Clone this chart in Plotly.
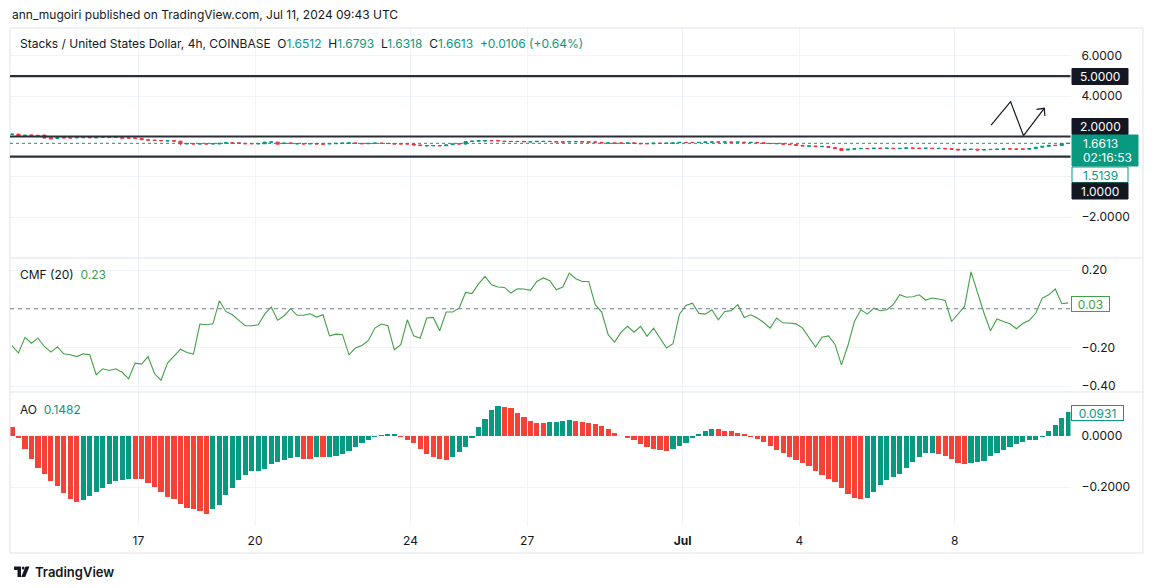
import plotly.graph_objects as go
import pandas as pd

# ---------------- data ----------------
bar_start = "2024-06-13 18:00"   # first visible 4h bar
bar_hours = 4

open_ = [2.10,2.12,2.05,2.08,2.06,2.07,1.94,1.90,1.95,1.94,
         1.93,1.94,1.96,1.93,1.96,1.95,1.97,1.94,1.93,1.93,
         1.91,1.84,1.82,1.80,1.78,1.79,1.77,1.63,1.65,1.63,
         1.64,1.63,1.63,1.67,1.69,1.68,1.66,1.65,1.63,1.64,
         1.72,1.72,1.65,1.68,1.63,1.65,1.63,1.65,1.64,1.63,
         1.64,1.66,1.66,1.68,1.66,1.64,1.66,1.67,1.66,1.65,
         1.64,1.64,1.63,1.58,1.53,1.54,1.55,1.54,1.60,1.64,
         1.63,1.75,1.77,1.78,1.80,1.80,1.77,1.76,1.76,1.76,
         1.73,1.74,1.75,1.76,1.75,1.74,1.73,1.74,1.75,1.74,
         1.73,1.71,1.67,1.68,1.68,1.66,1.68,1.66,1.65,1.64,
         1.67,1.66,1.66,1.69,1.71,1.71,1.70,1.71,1.72,1.73,
         1.72,1.73,1.71,1.72,1.70,1.71,1.69,1.66,1.64,1.65,
         1.62,1.60,1.56,1.52,1.53,1.50,1.50,1.46,1.40,1.33,
         1.37,1.39,1.41,1.40,1.42,1.41,1.42,1.40,1.41,1.43,
         1.42,1.41,1.42,1.40,1.41,1.39,1.37,1.33,1.36,1.37,
         1.33,1.35,1.36,1.37,1.39,1.38,1.38,1.37,1.40,1.47,
         1.51,1.57,1.55,1.6512]
high = [2.13,2.13,2.07,2.09,2.07,2.08,1.95,1.95,1.96,1.95,
        1.96,1.96,1.97,1.96,1.97,1.97,1.98,1.95,1.94,1.94,
        1.92,1.85,1.83,1.81,1.80,1.80,1.78,1.66,1.66,1.65,
        1.65,1.65,1.67,1.70,1.70,1.69,1.67,1.66,1.66,1.73,
        1.74,1.73,1.68,1.69,1.66,1.66,1.66,1.66,1.65,1.66,
        1.67,1.68,1.69,1.69,1.67,1.67,1.68,1.68,1.67,1.66,
        1.65,1.65,1.64,1.59,1.56,1.56,1.56,1.59,1.64,1.65,
        1.76,1.78,1.80,1.80,1.81,1.81,1.78,1.77,1.77,1.77,
        1.75,1.77,1.77,1.77,1.76,1.75,1.76,1.76,1.76,1.75,
        1.74,1.72,1.69,1.69,1.69,1.69,1.69,1.67,1.66,1.68,
        1.68,1.68,1.69,1.72,1.72,1.72,1.72,1.74,1.74,1.74,
        1.74,1.74,1.73,1.73,1.72,1.72,1.70,1.67,1.66,1.66,
        1.63,1.61,1.57,1.54,1.54,1.52,1.51,1.47,1.41,1.38,
        1.40,1.42,1.42,1.43,1.43,1.43,1.43,1.42,1.44,1.44,
        1.43,1.43,1.43,1.42,1.42,1.40,1.38,1.37,1.38,1.38,
        1.36,1.37,1.38,1.39,1.40,1.39,1.39,1.41,1.48,1.52,
        1.57,1.58,1.66,1.6793]
low = [2.09,2.03,2.04,2.04,2.03,1.91,1.87,1.89,1.92,1.92,
       1.92,1.93,1.93,1.92,1.94,1.94,1.94,1.91,1.91,1.90,
       1.83,1.81,1.79,1.78,1.77,1.76,1.57,1.62,1.62,1.62,
       1.62,1.62,1.62,1.66,1.66,1.66,1.63,1.63,1.62,1.63,
       1.71,1.61,1.64,1.65,1.62,1.62,1.62,1.62,1.61,1.62,
       1.63,1.65,1.65,1.65,1.63,1.63,1.65,1.65,1.64,1.62,
       1.62,1.62,1.57,1.54,1.52,1.53,1.53,1.53,1.59,1.62,
       1.58,1.74,1.76,1.77,1.78,1.77,1.74,1.74,1.74,1.73,
       1.72,1.73,1.74,1.74,1.72,1.71,1.72,1.73,1.72,1.71,
       1.71,1.67,1.66,1.66,1.66,1.65,1.66,1.63,1.63,1.63,
       1.65,1.65,1.65,1.68,1.69,1.69,1.69,1.70,1.71,1.71,
       1.71,1.70,1.70,1.69,1.69,1.68,1.65,1.64,1.63,1.61,
       1.59,1.55,1.52,1.51,1.49,1.49,1.45,1.39,1.28,1.32,
       1.36,1.38,1.39,1.39,1.40,1.40,1.39,1.39,1.40,1.41,
       1.40,1.40,1.39,1.39,1.38,1.36,1.32,1.32,1.35,1.32,
       1.32,1.34,1.35,1.36,1.37,1.36,1.36,1.36,1.39,1.46,
       1.50,1.54,1.54,1.6318]
close = [2.12,2.04,2.06,2.05,2.04,1.92,1.88,1.94,1.93,1.93,
         1.95,1.95,1.94,1.95,1.95,1.96,1.95,1.92,1.92,1.91,
         1.84,1.82,1.80,1.79,1.79,1.77,1.64,1.65,1.63,1.64,
         1.63,1.64,1.66,1.69,1.67,1.67,1.64,1.64,1.65,1.72,
         1.73,1.62,1.67,1.66,1.65,1.63,1.65,1.63,1.62,1.65,
         1.66,1.67,1.68,1.66,1.64,1.66,1.67,1.66,1.65,1.63,
         1.63,1.63,1.58,1.55,1.55,1.55,1.54,1.58,1.63,1.63,
         1.75,1.77,1.79,1.79,1.79,1.78,1.75,1.75,1.75,1.74,
         1.74,1.76,1.76,1.75,1.73,1.72,1.75,1.75,1.73,1.72,
         1.72,1.68,1.68,1.67,1.67,1.68,1.67,1.64,1.64,1.67,
         1.66,1.67,1.68,1.71,1.70,1.70,1.71,1.73,1.73,1.72,
         1.73,1.71,1.72,1.70,1.71,1.69,1.66,1.65,1.65,1.62,
         1.60,1.56,1.53,1.53,1.50,1.51,1.46,1.40,1.31,1.37,
         1.39,1.41,1.40,1.42,1.41,1.42,1.40,1.41,1.43,1.42,
         1.41,1.42,1.40,1.41,1.39,1.37,1.33,1.36,1.37,1.33,
         1.35,1.36,1.37,1.38,1.38,1.37,1.37,1.40,1.47,1.51,
         1.56,1.55,1.6512,1.6613]

cmf = [-0.190,-0.229,-0.148,-0.178,-0.152,-0.195,-0.224,-0.197,-0.233,-0.238,
       -0.247,-0.233,-0.238,-0.341,-0.310,-0.319,-0.310,-0.328,-0.362,-0.281,
       -0.286,-0.247,-0.336,-0.369,-0.281,-0.247,-0.209,-0.226,-0.234,-0.079,
       -0.083,-0.078,0.041,-0.014,-0.031,-0.060,-0.088,-0.088,-0.083,-0.028,
       0.009,-0.059,-0.036,0.000,-0.034,-0.034,-0.026,-0.043,-0.031,-0.140,
       -0.131,-0.134,-0.238,-0.203,-0.190,-0.164,-0.100,-0.079,-0.088,-0.212,
       -0.186,-0.057,-0.140,-0.152,-0.048,-0.045,-0.114,-0.017,-0.017,0.003,
       0.084,0.078,0.128,0.167,0.124,0.112,0.110,0.081,0.103,0.102,
       0.095,0.141,0.159,0.145,0.098,0.112,0.184,0.155,0.141,0.141,
       0.021,-0.017,-0.134,-0.172,-0.121,-0.091,-0.121,-0.091,-0.143,-0.100,
       -0.152,-0.203,-0.181,-0.028,0.017,0.029,-0.024,-0.028,-0.005,-0.057,
       -0.014,-0.010,0.021,-0.045,-0.031,-0.048,-0.071,-0.100,-0.048,-0.074,
       -0.074,-0.078,-0.100,-0.152,-0.198,-0.147,-0.140,-0.183,-0.290,-0.190,
       -0.066,-0.005,-0.028,0.003,-0.010,-0.005,0.021,0.072,0.059,0.062,
       0.072,0.045,0.055,0.050,0.043,-0.066,-0.028,0.012,0.190,0.081,
       -0.022,-0.114,-0.053,-0.066,-0.078,-0.103,-0.076,-0.060,-0.022,0.055,
       0.072,0.102,0.026,0.030]

ao = [0.035,-0.006,-0.051,-0.090,-0.123,-0.148,-0.174,-0.194,-0.221,-0.244,
      -0.256,-0.248,-0.234,-0.217,-0.201,-0.187,-0.175,-0.170,-0.166,-0.167,
      -0.168,-0.182,-0.197,-0.217,-0.236,-0.245,-0.266,-0.279,-0.283,-0.291,
      -0.303,-0.286,-0.268,-0.232,-0.201,-0.173,-0.151,-0.138,-0.136,-0.129,
      -0.108,-0.100,-0.094,-0.087,-0.082,-0.088,-0.089,-0.082,-0.083,-0.081,
      -0.078,-0.071,-0.058,-0.042,-0.026,-0.016,-0.004,0.004,0.008,0.009,
      -0.003,-0.016,-0.029,-0.051,-0.070,-0.081,-0.090,-0.094,-0.082,-0.062,
      -0.043,-0.006,0.035,0.066,0.100,0.117,0.114,0.108,0.091,0.074,
      0.060,0.051,0.049,0.053,0.054,0.058,0.061,0.058,0.053,0.049,
      0.045,0.039,0.027,0.013,0.001,-0.006,-0.016,-0.030,-0.043,-0.051,
      -0.055,-0.058,-0.051,-0.039,-0.026,-0.008,0.009,0.019,0.029,0.026,
      0.019,0.018,0.013,0.006,-0.004,-0.012,-0.025,-0.039,-0.055,-0.066,
      -0.081,-0.094,-0.104,-0.117,-0.135,-0.151,-0.166,-0.178,-0.204,-0.226,
      -0.243,-0.245,-0.243,-0.218,-0.191,-0.171,-0.158,-0.148,-0.123,-0.101,
      -0.081,-0.068,-0.065,-0.070,-0.077,-0.090,-0.104,-0.108,-0.104,-0.101,
      -0.097,-0.078,-0.068,-0.056,-0.042,-0.032,-0.025,-0.017,-0.016,-0.003,
      0.019,0.043,0.069,0.0931]

levels = [5.0, 2.0, 1.0]
last_price = 1.6613

# hand-drawn zig-zag arrow (bar position, price)
draw_pos = [151.1, 154.1, 156.1, 159.3]
draw_price = [2.57, 3.73, 2.04, 3.40]
head_pos = [158.1, 159.3, 159.4]
head_price = [3.35, 3.40, 3.02]

tick_dates = ["2024-06-17", "2024-06-20", "2024-06-24", "2024-06-27",
              "2024-07-01", "2024-07-04", "2024-07-08"]
tick_text = ["17", "20", "24", "27", "<b>Jul</b>", "4", "8"]

price_ticks = [6, 4, 2, 0, -2]
price_ticktext = ["6.0000", "4.0000", "", "", "\u22122.0000"]
cmf_ticks = [0.2, 0.0, -0.2, -0.4]
cmf_ticktext = ["0.20", "", "\u22120.20", "\u22120.40"]
ao_ticks = [0.0, -0.2]
ao_ticktext = ["0.0000", "\u22120.2000"]

# ---------------- styling ----------------
W, H = 1154, 588
UP, DOWN = "#089981", "#f23645"
AO_UP, AO_DOWN = "#089981", "#f44336"
CMF_C = "#43a047"
TXT = "#131722"
GRID = "#f0f3fa"
BORDER = "#e0e3eb"
FONT = "Inter"

def px(x):
    return x / W

def py(y):
    return 1 - y / H

t0 = pd.Timestamp(bar_start)
step = pd.Timedelta(hours=bar_hours)
dates = [t0 + step * i for i in range(len(close))]

def pos2date(p):
    return t0 + pd.Timedelta(hours=bar_hours * p)

x_range = [pos2date(-0.309), pos2date(163.35)]
X_DOM = [px(10), px(1070.5)]

fig = go.Figure()

fig.add_trace(go.Candlestick(
    x=dates, open=open_, high=high, low=low, close=close,
    increasing=dict(line=dict(color=UP, width=1), fillcolor=UP),
    decreasing=dict(line=dict(color=DOWN, width=1), fillcolor=DOWN),
    whiskerwidth=0, showlegend=False, xaxis="x", yaxis="y", hoverinfo="skip"))

fig.add_trace(go.Scatter(
    x=[pos2date(p) for p in draw_pos], y=draw_price, mode="lines",
    line=dict(color="#131722", width=1.2), xaxis="x", yaxis="y",
    showlegend=False, hoverinfo="skip"))
fig.add_trace(go.Scatter(
    x=[pos2date(p) for p in head_pos], y=head_price, mode="lines",
    line=dict(color="#131722", width=1.2), xaxis="x", yaxis="y",
    showlegend=False, hoverinfo="skip"))

fig.add_trace(go.Scatter(
    x=dates, y=cmf, mode="lines", line=dict(color=CMF_C, width=1.1),
    xaxis="x2", yaxis="y2", showlegend=False, hoverinfo="skip"))

ao_colors = [AO_DOWN] + [AO_UP if ao[i] >= ao[i - 1] else AO_DOWN for i in range(1, len(ao))]
fig.add_trace(go.Bar(
    x=dates, y=ao, marker=dict(color=ao_colors, line=dict(width=0)),
    width=bar_hours * 3600 * 1000 * 0.8,
    xaxis="x3", yaxis="y3", showlegend=False, hoverinfo="skip"))

# panes (pixel rows)
PRICE_PX = (28, 258)
CMF_PX = (258, 392)
AO_PX = (392, 526)

def dom(p):
    return [py(p[1]), py(p[0])]

xcommon = dict(range=x_range, domain=X_DOM, showgrid=True, gridcolor=GRID,
               gridwidth=1, tickvals=tick_dates, ticktext=tick_text,
               zeroline=False, showline=False, ticks="", fixedrange=True)
tickfont = dict(family=FONT, size=12, color=TXT)

fig.update_layout(
    width=W, height=H, margin=dict(l=0, r=0, t=0, b=0),
    paper_bgcolor="white", plot_bgcolor="white", bargap=0,
    xaxis=dict(**xcommon, anchor="y", showticklabels=False,
               rangeslider=dict(visible=False)),
    xaxis2=dict(**xcommon, anchor="y2", showticklabels=False),
    xaxis3=dict(**xcommon, anchor="y3", showticklabels=True, tickfont=tickfont,
                ticklabelstandoff=6),
    yaxis=dict(domain=dom(PRICE_PX), range=[-4.03, 7.385], side="right",
               anchor="x", tickvals=price_ticks, ticktext=price_ticktext,
               showgrid=True, gridcolor=GRID, zeroline=False, ticks="",
               tickfont=tickfont, ticklabelstandoff=10, fixedrange=True),
    yaxis2=dict(domain=dom(CMF_PX), range=[-0.430, 0.262], side="right",
                anchor="x2", tickvals=cmf_ticks, ticktext=cmf_ticktext,
                showgrid=True, gridcolor=GRID, zeroline=False, ticks="",
                tickfont=tickfont, ticklabelstandoff=10, fixedrange=True),
    yaxis3=dict(domain=dom(AO_PX), range=[-0.351, 0.1715], side="right",
                anchor="x3", tickvals=ao_ticks, ticktext=ao_ticktext,
                showgrid=True, gridcolor=GRID, zeroline=False, ticks="",
                tickfont=tickfont, ticklabelstandoff=10, fixedrange=True),
)

shapes = []
# frame and separators
for yy in (28, 258, 392, 553):
    shapes.append(dict(type="line", xref="paper", yref="paper", x0=px(10), x1=px(1143),
                       y0=py(yy), y1=py(yy), line=dict(color=BORDER, width=1)))
for xx in (10, 1143):
    shapes.append(dict(type="line", xref="paper", yref="paper", x0=px(xx), x1=px(xx),
                       y0=py(28), y1=py(553), line=dict(color=BORDER, width=1)))
# horizontal levels
for lv in levels:
    shapes.append(dict(type="line", xref="x domain", yref="y", x0=0, x1=1, y0=lv, y1=lv,
                       line=dict(color="#2a2e39", width=2.2), layer="above"))
# last price dotted line
shapes.append(dict(type="line", xref="x domain", yref="y", x0=0, x1=1,
                   y0=last_price, y1=last_price,
                   line=dict(color=UP, width=1, dash="dot"), layer="above"))
# CMF zero dashed line
shapes.append(dict(type="line", xref="x2 domain", yref="y2", x0=0, x1=1, y0=0, y1=0,
                   line=dict(color="#787b86", width=1, dash="4px,4px")))

# price-scale label boxes (pixel rows)
def box(x0, x1, y0, y1, fill, line=None):
    shapes.append(dict(type="rect", xref="paper", yref="paper",
                       x0=px(x0), x1=px(x1), y0=py(y1), y1=py(y0),
                       fillcolor=fill, line=dict(color=line or fill, width=1),
                       layer="above"))

box(1072, 1128, 68.5, 84.5, "#131722")
box(1072, 1128, 118.5, 134.5, "#131722")
box(1072, 1138, 135, 166, UP)
box(1072, 1128, 167, 182.5, "white", UP)
box(1072, 1128, 183, 199, "#131722")

# TradingView logo
shapes.append(dict(type="path", xref="paper", yref="paper",
                   path=f"M {px(14)},{py(566.5)} L {px(21)},{py(566.5)} L {px(21)},{py(577)} "
                        f"L {px(17.5)},{py(577)} L {px(17.5)},{py(570)} L {px(14)},{py(570)} Z",
                   fillcolor=TXT, line=dict(width=0)))
shapes.append(dict(type="circle", xref="paper", yref="paper",
                   x0=px(21.8), x1=px(24.6), y0=py(569.6), y1=py(566.6),
                   fillcolor=TXT, line=dict(width=0)))
shapes.append(dict(type="path", xref="paper", yref="paper",
                   path=f"M {px(25.5)},{py(566.5)} L {px(29.5)},{py(566.5)} L {px(25.2)},{py(577)} "
                        f"L {px(21.2)},{py(577)} Z",
                   fillcolor=TXT, line=dict(width=0)))
fig.update_layout(shapes=shapes)

ann = []
def text(x, y, s, size=12, color=TXT, anchor="left", weight=None, **kw):
    f = dict(family=FONT, size=size, color=color)
    if weight:
        f["weight"] = weight
    d = dict(xref="paper", yref="paper", x=px(x), y=py(y), text=s, showarrow=False,
             xanchor=anchor, yanchor="middle", font=f, align="left")
    d.update(kw)
    ann.append(d)

NB = "\u00a0"
def col(s, c):
    return f"<span style='color:{c}'>{s}</span>"

text(10, 15, "ann_mugoiri published on TradingView.com, Jul 11, 2024 09:43 UTC", size=12)
text(18, 43, "Stacks / United States Dollar, 4h, COINBASE" + NB * 2 +
     "O" + col("1.6512", UP) + NB * 2 + "H" + col("1.6793", UP) + NB * 2 +
     "L" + col("1.6318", UP) + NB * 2 + "C" + col("1.6613", UP) + NB * 2 +
     col("+0.0106 (+0.64%)", UP), size=12)
text(18, 274, "CMF (20)" + NB * 2 + col("0.23", CMF_C), size=12)
text(18, 409, "AO" + NB * 2 + col("0.1482", UP), size=12)

# price-scale label texts
text(1100, 76.5, "5.0000", color="white", anchor="center")
text(1100, 126.5, "2.0000", color="white", anchor="center")
text(1081, 143, "1.6613", color="white")
text(1081, 158, "02:16:53", color="white")
text(1100, 175, "1.5139", color=UP, anchor="center")
text(1100, 191, "1.0000", color="white", anchor="center")

# indicator value boxes
ann.append(dict(xref="paper", yref="paper", x=px(1071), y=py(303.5), text="0.03",
                showarrow=False, xanchor="left", yanchor="middle",
                font=dict(family=FONT, size=12, color=CMF_C),
                bgcolor="white", bordercolor=CMF_C, borderwidth=1, borderpad=0,
                width=37, height=14, align="center"))
ann.append(dict(xref="paper", yref="paper", x=px(1071), y=py(413), text="0.0931",
                showarrow=False, xanchor="left", yanchor="middle",
                font=dict(family=FONT, size=12, color=UP),
                bgcolor="white", bordercolor=UP, borderwidth=1, borderpad=0,
                width=51, height=14, align="center"))

text(33, 572, "TradingView", size=13, weight=600)
fig.update_layout(annotations=ann)

fig.write_html("out.html", config={"displayModeBar": False, "staticPlot": True},
               post_script="document.body.style.margin='0';document.body.style.overflow='hidden';")
